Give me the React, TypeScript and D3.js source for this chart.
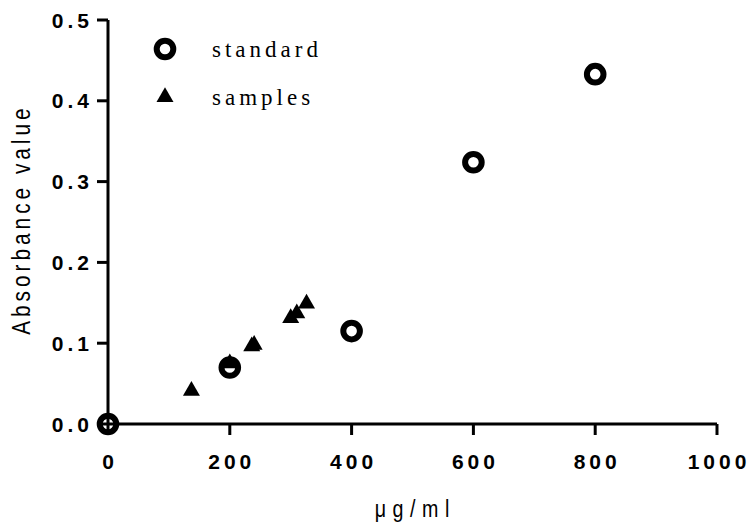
import React from 'react'
import * as d3 from 'd3'

// standard curve
const standardX = [0, 200, 400, 600, 800]
const standardY = [0, 0.07, 0.115, 0.324, 0.433]

// samples
const sampleX = [137, 200, 236, 240, 300, 310, 326]
const sampleY = [0.041, 0.075, 0.096, 0.098, 0.131, 0.137, 0.149]

const xTicks = [0, 200, 400, 600, 800, 1000]
const yTicks = [0, 0.1, 0.2, 0.3, 0.4, 0.5]

const W = 749
const H = 525

export default function App() {
  const x = d3.scaleLinear().domain([0, 1000]).range([108, 717])
  const y = d3.scaleLinear().domain([0, 0.5]).range([424, 20])

  const tri = d3.symbol().type(d3.symbolTriangle).size(125)()
  const tickFont = { fontFamily: 'Liberation Sans, Arial, sans-serif', fontWeight: 'bold', fontSize: 21, letterSpacing: 4 }
  const ls = 4

  return (
    <svg width={W} height={H} style={{ position: 'absolute', left: 0, top: 0, background: '#fff' }}>
      {/* axes */}
      <g stroke="#000" strokeWidth={3} fill="none">
        <line x1={x(0)} x2={x(1000)} y1={y(0)} y2={y(0)} />
        <line x1={x(0)} x2={x(0)} y1={y(0)} y2={y(0.5)} />
        {xTicks.map(t => (
          <line key={'xt' + t} x1={x(t)} x2={x(t)} y1={y(0)} y2={y(0) + 11} />
        ))}
        {yTicks.map(t => (
          <line key={'yt' + t} x1={x(0) - 11} x2={x(0)} y1={y(t)} y2={y(t)} />
        ))}
      </g>
      {xTicks.map(t => (
        <text key={'xl' + t} x={x(t)} dx={ls / 2} y={469} textAnchor="middle" style={tickFont}>{t}</text>
      ))}
      {yTicks.map(t => (
        <text key={'yl' + t} x={93} y={y(t) + 7.5} textAnchor="end" style={tickFont}>{d3.format('.1f')(t)}</text>
      ))}

      {/* axis titles */}
      <text transform={`translate(412,517) scale(0.82,1)`} textAnchor="middle" dx={4}
        style={{ fontFamily: 'Liberation Sans, Arial, sans-serif', fontSize: 24, letterSpacing: 8 }}>μg/ml</text>
      <text transform={`translate(30,${(y(0) + y(0.5)) / 2}) rotate(-90) scale(0.8,1)`} textAnchor="middle" dx={3}
        style={{ fontFamily: 'Liberation Sans, Arial, sans-serif', fontSize: 26, letterSpacing: 5 }}>Absorbance value</text>

      {/* points */}
      {sampleX.map((v, i) => (
        <path key={'s' + i} d={tri} transform={`translate(${x(v)},${y(sampleY[i])})`} fill="#000" />
      ))}
      {standardX.map((v, i) => (
        <circle key={'c' + i} cx={x(v)} cy={y(standardY[i])} r={8.3} fill="none" stroke="#000" strokeWidth={6} />
      ))}

      {/* legend */}
      <circle cx={165} cy={49} r={8.3} fill="none" stroke="#000" strokeWidth={6} />
      <path d={tri} transform="translate(165,97)" fill="#000" />
      <g style={{ fontFamily: 'Liberation Serif, Times New Roman, serif', fontSize: 23, letterSpacing: 4 }}>
        <text x={212} y={57}>standard</text>
        <text x={212} y={105}>samples</text>
      </g>
    </svg>
  )
}
